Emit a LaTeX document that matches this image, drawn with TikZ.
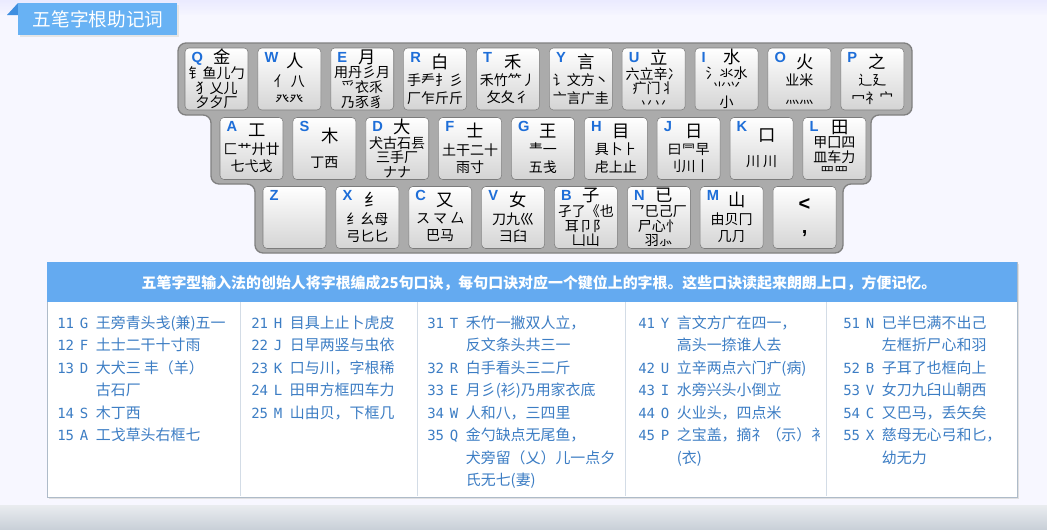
\documentclass[tikz,border=0pt]{standalone}
\usepackage{fontspec}
\setmainfont{Noto Sans CJK SC}
\newfontfamily\keyfont{Liberation Sans}
\newfontfamily\numfont{DejaVu Sans Mono}
\usetikzlibrary{positioning}
\definecolor{tabblue}{HTML}{68B2F4}
\definecolor{tabdark}{HTML}{3F8FE0}
\definecolor{headblue}{HTML}{64AAF0}
\definecolor{textblue}{HTML}{3C7DC4}
\definecolor{letterblue}{HTML}{1E6ED8}
\definecolor{tableedge}{HTML}{AEBBC9}
\definecolor{divider}{HTML}{D3DCE6}
\definecolor{framegray}{HTML}{ABABAB}
\definecolor{frameedge}{HTML}{808080}
\definecolor{keygray}{HTML}{D4D4D4}
\definecolor{keyedge}{HTML}{7C7C7C}
\definecolor{bandgray}{HTML}{C9D0D8}
\newcommand{\mainroot}[1]{\hspace*{8pt}{\fontsize{13}{13}\selectfont #1}}
\newcommand{\rnum}[2]{{\numfont\fontsize{10.5}{11}\selectfont #1} & {\numfont\fontsize{10.5}{11}\selectfont #2}}

\begin{document}
\begin{tikzpicture}[
  x=0.75pt, y=-0.75pt, font=\fontsize{10.5}{11}\selectfont, node distance=7pt,
  key/.style={draw=keyedge, rounded corners=3pt, top color=white, bottom color=keygray,
              minimum width=47.25pt, minimum height=46.5pt, inner sep=0pt, align=center,
              label={[keyletter]north west:#1}},
  keyletter/.style={anchor=north west, inner sep=0pt, xshift=5pt, yshift=-3pt,
                    text=letterblue, font=\keyfont\bfseries\fontsize{11}{11}\selectfont},
  rhyme/.style={anchor=north west, inner sep=0pt, text=textblue, font=\fontsize{11.2}{16.9}\selectfont}
]
\useasboundingbox (0,0) rectangle (1047,529);
\fill[white!97!blue] (0,0) rectangle (1047,529);
\shade[top color=blue!8!white, bottom color=blue!4!white] (0,0) rectangle (1047,14);
\shade[top color=bandgray!40!white, bottom color=bandgray] (0,505) rectangle (1047,529);

% title tab
\fill[tabdark] (7,15) -- (18,3) -- (18,15) -- cycle;
\fill[black!10] (20,5) rectangle (179,37);
\fill[tabblue] (18,3) rectangle (177,35);
\node[text=white, font=\fontsize{14}{15}\selectfont] (title) at (98,19) {五笔字根助记词};

% keyboard frame
\draw[fill=framegray, draw=frameedge, line width=1pt, rounded corners=6pt]
  (178,43) -- (912,43) -- (912,115) -- (871,115) -- (871,184) -- (843,184) -- (843,253)
  -- (255,253) -- (255,184) -- (211,184) -- (211,115) -- (178,115) -- cycle;

% row 1
\node[key=Q] (q) at (216.5,79) {\mainroot{金}\\钅鱼儿勹\\犭乂儿\\夕夕厂};
\node[key=W, right=of q] (w) {\mainroot{人}\\[3pt]亻 八\\[3pt]癶癶};
\node[key=E, right=of w] (e) {\mainroot{月}\\用丹彡月\\爫衣乑\\乃豕豸};
\node[key=R, right=of e] (r) {\mainroot{白}\\[2pt]手龵扌彡\\[2pt]厂乍斤斤};
\node[key=T, right=of r] (t) {\mainroot{禾}\\[2pt]禾竹⺮丿\\[2pt]攵夂彳};
\node[key=Y, right=of t] (y) {\mainroot{言}\\[2pt]讠文方丶\\[2pt]亠言广圭};
\node[key=U, right=of y] (u) {\mainroot{立}\\六立辛冫\\疒门丬\\丷丷};
\node[key=I, right=of u] (i) {\mainroot{水}\\氵氺水\\⺌⺍\\小};
\node[key=O, right=of i] (o) {\mainroot{火}\\[2pt]业米\\[2pt]灬灬};
\node[key=P, right=of o] (p) {\mainroot{之}\\[2pt]辶廴\\[2pt]冖礻宀};

% row 2
\node[key=A] (a) at (251.5,148.5) {\mainroot{工}\\[2pt]匚艹廾廿\\[2pt]七弋戈};
\node[key=S, right=of a] (s) {\mainroot{木}\\[8pt]丁西};
\node[key=D, right=of s] (d) {\mainroot{大}\\犬古石镸\\三手厂\\ナナ};
\node[key=F, right=of d] (f) {\mainroot{士}\\[2pt]土干二十\\[2pt]雨寸};
\node[key=G, right=of f] (g) {\mainroot{王}\\[2pt]龶一\\[2pt]五戋};
\node[key=H, right=of g] (h) {\mainroot{目}\\[2pt]具卜⺊\\[2pt]虍上止};
\node[key=J, right=of h] (j) {\mainroot{日}\\[2pt]曰⺜早\\[2pt]刂川丨};
\node[key=K, right=of j] (k) {\mainroot{口}\\[8pt]川 川};
\node[key=L, right=of k] (l) {\mainroot{田}\\甲囗四\\皿车力\\罒罒};

% row 3
\node[key=Z] (z) at (294.5,217.5) {};
\node[key=X, right=of z] (x) {\mainroot{纟}\\[2pt]纟幺母\\[2pt]弓匕匕};
\node[key=C, right=of x] (c) {\mainroot{又}\\[2pt]ス マ 厶\\[2pt]巴马};
\node[key=V, right=of c] (v) {\mainroot{女}\\[2pt]刀九巛\\[2pt]彐臼};
\node[key=B, right=of v] (b) {\mainroot{子}\\孑了《也\\耳卩阝\\凵山};
\node[key=N, right=of b] (n) {\mainroot{已}\\乛巳己厂\\尸心忄\\羽⺗};
\node[key=M, right=of n] (m) {\mainroot{山}\\[2pt]由贝冂\\[2pt]几⺆};
\node[key={}, right=of m, font=\keyfont\bfseries\fontsize{15}{17}\selectfont] (comma) {<\\,};

% rhyme table
\fill[black!12] (49,264) rectangle (1019,499);
\draw[fill=white, draw=tableedge] (47,262) rectangle (1017,497);
\fill[headblue] (47,262) rectangle (1017,302);
\foreach \xd in {240,417,625,826}
  \draw[divider] (\xd,302) -- (\xd,496);
\node[text=white, font=\bfseries\fontsize{11.2}{12}\selectfont] (head) at (539,283)
  {五笔字型输入法的创始人将字根编成25句口诀，每句口诀对应一个键位上的字根。这些口诀读起来朗朗上口，方便记忆。};

\node[rhyme] (col1) at (57,312) {\begin{tabular}{@{}p{17pt}@{}p{12pt}@{}l@{}}
\rnum{11}{G} & 王旁青头戋(兼)五一\\
\rnum{12}{F} & 土士二干十寸雨\\
\rnum{13}{D} & 大犬三 丰（羊）\\
   &   & 古石厂\\
\rnum{14}{S} & 木丁西\\
\rnum{15}{A} & 工戈草头右框七
\end{tabular}};
\node[rhyme] (col2) at (251,312) {\begin{tabular}{@{}p{17pt}@{}p{12pt}@{}l@{}}
\rnum{21}{H} & 目具上止卜虎皮\\
\rnum{22}{J} & 日早两竖与虫依\\
\rnum{23}{K} & 口与川，字根稀\\
\rnum{24}{L} & 田甲方框四车力\\
\rnum{25}{M} & 山由贝，下框几
\end{tabular}};
\node[rhyme] (col3) at (427,312) {\begin{tabular}{@{}p{17pt}@{}p{12pt}@{}l@{}}
\rnum{31}{T} & 禾竹一撇双人立，\\
   &   & 反文条头共三一\\
\rnum{32}{R} & 白手看头三二斤\\
\rnum{33}{E} & 月彡(衫)乃用家衣底\\
\rnum{34}{W} & 人和八，三四里\\
\rnum{35}{Q} & 金勺缺点无尾鱼，\\
   &   & 犬旁留（乂）儿一点夕\\
   &   & 氏无七(妻)
\end{tabular}};
\node[rhyme] (col4) at (638,312) {\begin{tabular}{@{}p{17pt}@{}p{12pt}@{}l@{}}
\rnum{41}{Y} & 言文方广在四一，\\
   &   & 高头一捺谁人去\\
\rnum{42}{U} & 立辛两点六门疒(病)\\
\rnum{43}{I} & 水旁兴头小倒立\\
\rnum{44}{O} & 火业头，四点米\\
\rnum{45}{P} & 之宝盖，摘礻（示）衤\\
   &   & (衣)
\end{tabular}};
\node[rhyme] (col5) at (843,312) {\begin{tabular}{@{}p{17pt}@{}p{12pt}@{}l@{}}
\rnum{51}{N} & 已半巳满不出己\\
   &   & 左框折尸心和羽\\
\rnum{52}{B} & 子耳了也框向上\\
\rnum{53}{V} & 女刀九臼山朝西\\
\rnum{54}{C} & 又巴马，丢矢矣\\
\rnum{55}{X} & 慈母无心弓和匕，\\
   &   & 幼无力
\end{tabular}};
\end{tikzpicture}
\end{document}
